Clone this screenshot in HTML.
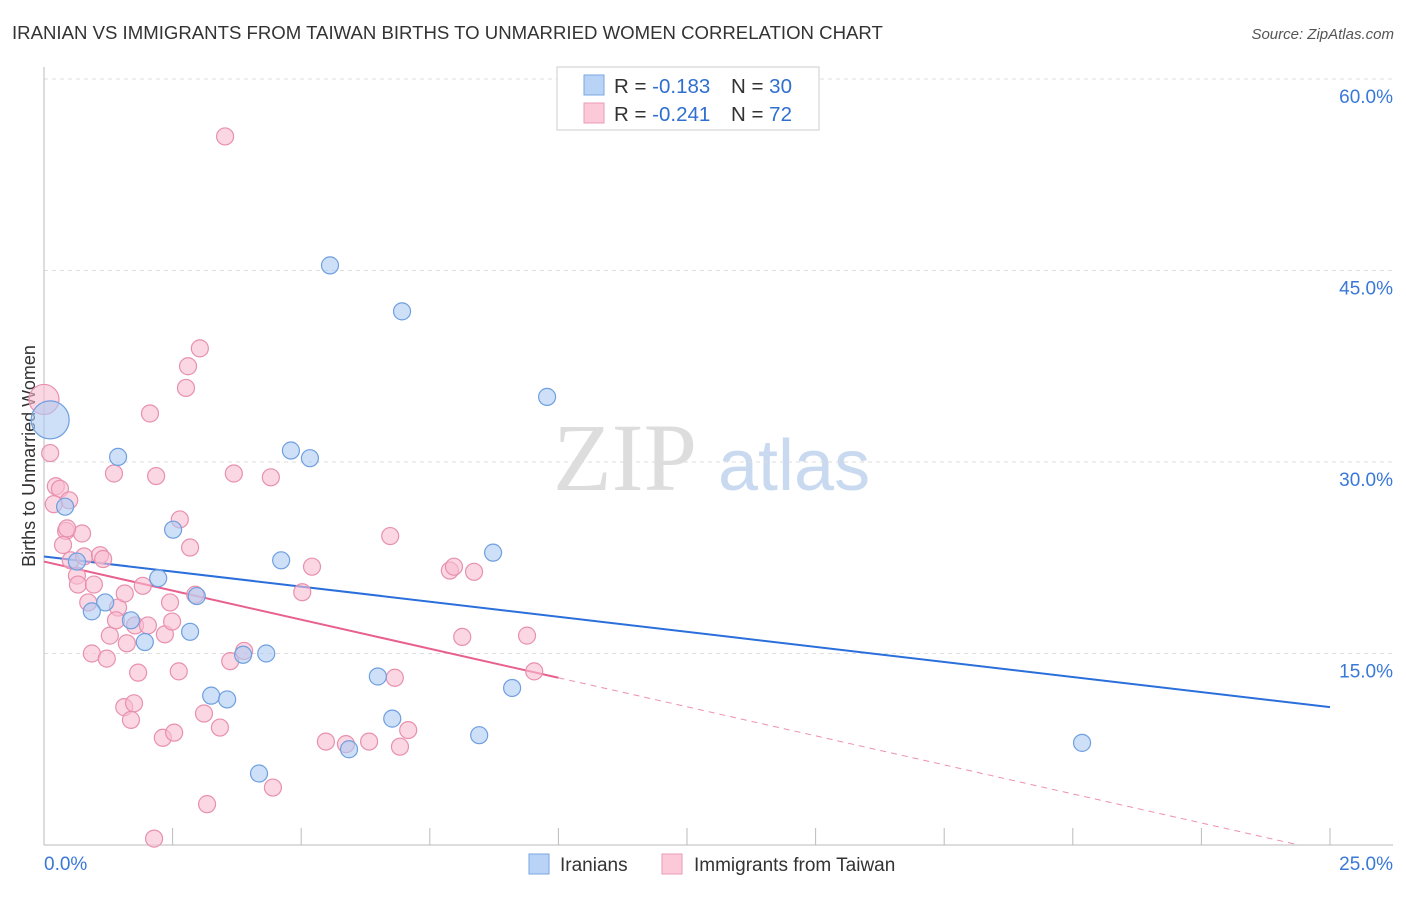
<!DOCTYPE html>
<html><head><meta charset="utf-8"><style>
body{margin:0;background:#fff;font-family:"Liberation Sans",sans-serif;}
</style></head><body>
<svg id="c" width="1406" height="892" xmlns="http://www.w3.org/2000/svg" style="font-family:'Liberation Sans',sans-serif">
<text x="12" y="39" font-size="18.6" fill="#333">IRANIAN VS IMMIGRANTS FROM TAIWAN BIRTHS TO UNMARRIED WOMEN CORRELATION CHART</text>
<text x="1394" y="39" font-size="15" fill="#555" font-style="italic" text-anchor="end">Source: ZipAtlas.com</text>
<text x="35" y="456" font-size="18" fill="#333" text-anchor="middle" transform="rotate(-90 35 456)">Births to Unmarried Women</text>
<g><text x="553" y="490" font-size="96" font-family="'Liberation Serif',serif" fill="#ddd">ZIP</text><text x="718" y="490" font-size="72" fill="#c9daf0">atlas</text></g>
<g id="grid"></g><g id="lines"></g><g id="pts"></g>
<g>
<rect x="557" y="67" width="262" height="63" fill="#fff" stroke="#ccc"/>
<rect x="584" y="75" width="20" height="20" fill="#b8d3f5" stroke="#7aa7e2"/>
<rect x="584" y="103" width="20" height="20" fill="#fcc9d8" stroke="#eb9ab5"/>
<text x="614" y="93" font-size="20.5" fill="#333">R = <tspan fill="#2f6fd0">-0.183</tspan><tspan x="731">N = </tspan><tspan fill="#2f6fd0">30</tspan></text>
<text x="614" y="121" font-size="20.5" fill="#333">R = <tspan fill="#2f6fd0">-0.241</tspan><tspan x="731">N = </tspan><tspan fill="#2f6fd0"> 72</tspan></text>
</g>
<g>
<rect x="529" y="854" width="20" height="20" fill="#b8d3f5" stroke="#7aa7e2"/>
<text x="560" y="871" font-size="19" fill="#333">Iranians</text>
<rect x="662" y="854" width="20" height="20" fill="#fcc9d8" stroke="#eb9ab5"/>
<text x="694" y="871" font-size="19" fill="#333">Immigrants from Taiwan</text>
</g>
</svg>
<script>
const yTicks=[15,30,45,60];
const xTickLabels=["0.0%","25.0%"];
const blueX=[0.12,0.41,1.44,0.64,1.19,0.93,1.69,1.96,2.22,2.51,2.84,2.97,3.25,3.56,3.87,4.32,4.18,4.61,4.80,5.17,5.56,6.49,6.77,6.96,8.46,8.73,9.10,9.78,20.18,5.93];
const blueY=[33.3,26.5,30.4,22.2,19.0,18.3,17.6,15.9,20.9,24.7,16.7,19.5,11.7,11.4,14.9,15.0,5.6,22.3,30.9,30.3,45.4,13.2,9.9,41.8,8.6,22.9,12.3,35.1,8.0,7.5];
const pinkX=[3.52,3.03,2.80,2.76,2.06,0.0,0.12,0.23,0.31,0.49,0.19,0.43,0.37,0.74,0.52,0.64,0.66,0.78,0.97,0.86,1.09,1.15,1.28,1.44,1.40,1.57,1.92,1.61,1.77,2.02,2.35,2.45,2.49,2.64,2.84,2.94,2.18,1.36,3.69,4.41,1.83,0.93,1.22,1.56,1.75,1.69,2.31,2.53,2.62,3.11,3.42,3.62,3.89,3.17,4.45,2.14,5.02,5.21,5.48,5.87,6.32,6.73,6.82,6.92,7.08,7.89,7.97,8.36,8.13,9.39,9.53,0.45];
const pinkY=[55.5,38.9,37.5,35.8,33.8,34.9,30.7,28.1,27.9,27.0,26.7,24.6,23.5,24.4,22.3,21.1,20.4,22.6,20.4,19.0,22.7,22.4,16.4,18.6,17.6,19.7,20.3,15.8,17.2,17.2,16.5,19.0,17.5,25.5,23.3,19.6,28.9,29.1,29.1,28.8,13.5,15.0,14.6,10.8,11.1,9.8,8.4,8.8,13.6,10.3,9.2,14.4,15.2,3.2,4.5,0.5,19.8,21.8,8.1,7.9,8.1,24.2,13.1,7.7,9.0,21.5,21.8,21.4,16.3,16.4,13.6,24.8];
const blueTrend=[22.6,10.8];
const pinkTrend=[22.2,13.1];
const pinkSolidEnd=10;
const NS="http://www.w3.org/2000/svg";
const X=v=>44+v/25*1286, Y=v=>845-v/60*766;
function mk(t,a,p){const e=document.createElementNS(NS,t);for(const k in a)e.setAttribute(k,a[k]);p.appendChild(e);return e;}
const g=document.getElementById('grid');
yTicks.forEach(t=>{
 const l=mk('line',{x1:44,x2:1393,y1:Y(t),y2:Y(t),stroke:'#ddd','stroke-dasharray':'4,4'},g);
 
 
 const tx=mk('text',{x:1393,y:Y(t)+24,'font-size':19,fill:'#3a78d8','text-anchor':'end'},g);tx.textContent=t.toFixed(1)+'%';
 
 
});
mk('line',{x1:44,x2:44,y1:67,y2:845,stroke:'#bbb'},g);
mk('line',{x1:44,x2:1393,y1:845,y2:845,stroke:'#bbb'},g);
for(let i=1;i<=10;i++){mk('line',{x1:X(i*2.5),x2:X(i*2.5),y1:828,y2:845,stroke:'#bbb'},g);}
const xl0=mk('text',{x:44,y:870,'font-size':19,fill:'#3a78d8'},g);xl0.textContent=xTickLabels[0];


const xl1=mk('text',{x:1393,y:870,'font-size':19,fill:'#3a78d8','text-anchor':'end'},g);xl1.textContent=xTickLabels[1];


const P=document.getElementById('pts');
function dots(xs,ys,f,s,n,big){xs.forEach((x,i)=>{const r=(x<0.2&&ys[i]>32)?big:8.5;const c=mk('circle',{cx:X(x),cy:Y(ys[i]),r:r,fill:f,stroke:s,'stroke-width':1.2,'fill-opacity':0.6},P);

});}
dots(pinkX,pinkY,'#f9bcd0','#e890ae','point-taiwan',15);
dots(blueX,blueY,'#aecbf2','#6e9fe0','point-iranian',19);
const L=document.getElementById('lines');
const bl=mk('line',{x1:X(0),y1:Y(blueTrend[0]),x2:X(25),y2:Y(blueTrend[1]),stroke:'#2a6fdb','stroke-width':2},L);


const slope=(pinkTrend[1]-pinkTrend[0])/pinkSolidEnd;
const pl=mk('line',{x1:X(0),y1:Y(pinkTrend[0]),x2:X(pinkSolidEnd),y2:Y(pinkTrend[1]),stroke:'#e8608f','stroke-width':2},L);


const xe=-pinkTrend[0]/slope;
const pd=mk('line',{x1:X(pinkSolidEnd),y1:Y(pinkTrend[1]),x2:X(xe),y2:Y(0),stroke:'#e8608f','stroke-width':1,'stroke-dasharray':'6,5','opacity':0.7},L);


</script>
</body></html>
